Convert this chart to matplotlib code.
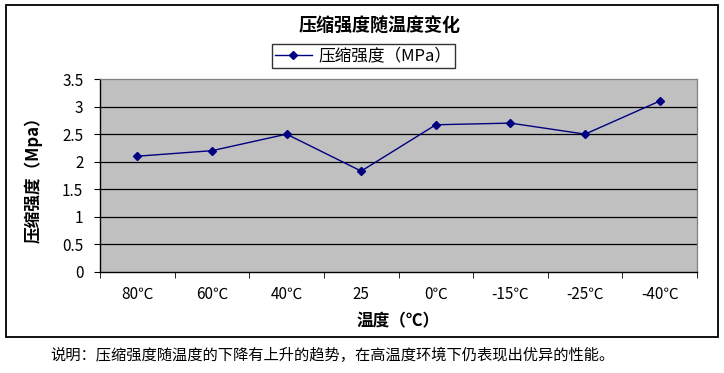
import matplotlib
matplotlib.use("Agg")
import matplotlib.pyplot as plt
from matplotlib.patches import Rectangle
from matplotlib.lines import Line2D

plt.rcParams['font.family'] = ['Noto Sans CJK SC', 'DejaVu Sans']

categories = ["80℃", "60℃", "40℃", "25", "0℃", "-15℃", "-25℃", "-40℃"]
strength = [2.1, 2.2, 2.5, 1.83, 2.67, 2.7, 2.5, 3.1]
yticks = [0, 0.5, 1, 1.5, 2, 2.5, 3, 3.5]
ytick_labels = ["0", "0.5", "1", "1.5", "2", "2.5", "3", "3.5"]

W, H = 724, 373
fig = plt.figure(figsize=(W / 100, H / 100), dpi=100)
fig.patch.set_facecolor('white')

# outer chart border
fig.patches.append(Rectangle((6 / W, (H - 337) / H), 712 / W, 332 / H,
                             transform=fig.transFigure, fill=False,
                             edgecolor='black', linewidth=1.3))

ax = fig.add_axes([100 / W, (H - 272) / H, 597 / W, 193 / H])
ax.set_facecolor('#C0C0C0')
x = list(range(len(categories)))
ax.plot(x, strength, color='#000080', linewidth=1.0, marker='D',
        markersize=4.5, markerfacecolor='#000080', markeredgecolor='#000080')

ax.set_xlim(-0.5, len(categories) - 0.5)
ax.set_ylim(0, 3.5)
ax.set_yticks(yticks)
ax.set_yticklabels(ytick_labels, fontsize=11)
for v in yticks[1:-1]:
    ax.axhline(v, color='black', linewidth=0.9, zorder=1)

ax.set_xticks(x)
ax.set_xticklabels(categories, fontsize=11)
ax.tick_params(axis='x', length=0, pad=10)
ax.set_xticks([i + 0.5 for i in range(-1, len(categories))], minor=True)
ax.tick_params(axis='x', which='minor', length=4, direction='out', color='black')
ax.tick_params(axis='y', length=4, direction='out', pad=8)

for s in ['top', 'right']:
    ax.spines[s].set_color('#808080')
    ax.spines[s].set_linewidth(0.9)
for s in ['left', 'bottom']:
    ax.spines[s].set_color('black')
    ax.spines[s].set_linewidth(1.0)

ax.set_xlabel("温度（℃）", fontsize=12, fontweight='bold', labelpad=7)
ax.set_ylabel("压缩强度（Mpa）", fontsize=12, fontweight='bold', labelpad=14)

fig.text(380 / W, 1 - 26 / H, "压缩强度随温度变化", ha='center', va='center',
         fontsize=13, fontweight='bold')

handle = Line2D([], [], color='#000080', linewidth=1.0, marker='D',
                markersize=4.5, markerfacecolor='#000080')
leg = fig.legend([handle], ["压缩强度（MPa）"], loc='center',
                 bbox_to_anchor=(363 / W, 1 - 56 / H), fontsize=12,
                 frameon=True, fancybox=False, edgecolor='black',
                 handlelength=2.2, handletextpad=0.4, borderpad=0.2,
                 borderaxespad=0)
leg.get_frame().set_linewidth(1.0)

fig.text(50 / W, 1 - 355 / H,
         "说明：压缩强度随温度的下降有上升的趋势，在高温度环境下仍表现出优异的性能。",
         ha='left', va='center', fontsize=11)

fig.savefig("out.png", dpi=100, facecolor='white')
